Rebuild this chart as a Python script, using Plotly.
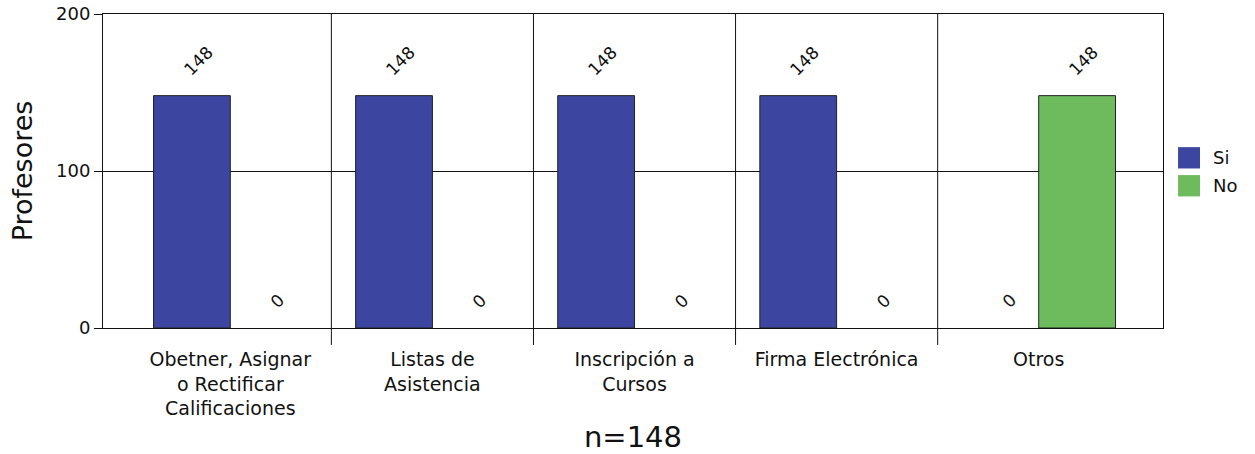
import plotly.graph_objects as go

# Survey categories and answer counts
categorias = [
    "Obetner, Asignar<br>o Rectificar<br>Calificaciones",
    "Listas de<br>Asistencia",
    "Inscripción a<br>Cursos",
    "Firma Electrónica",
    "Otros",
]
si = [148, 148, 148, 148, 0]
no = [0, 0, 0, 0, 148]
series = [("Si", si, "#3C46A0"), ("No", no, "#6EBB5E")]
total_n = 148

FONT = "DejaVu Sans, Verdana, sans-serif"
INK = "#111111"
BAR_HALF = 0.19

fig = go.Figure()
for nombre, valores, color in series:
    fig.add_trace(go.Bar(
        x=categorias, y=valores, name=nombre,
        marker=dict(color=color,
                    line=dict(color="#222222",
                              width=[1 if v > 0 else 0 for v in valores])),
        showlegend=False,
    ))

# Rotated value labels above each bar
annotations = []
for k, (nombre, valores, color) in enumerate(series):
    off = -BAR_HALF if k == 0 else BAR_HALF
    for i, v in enumerate(valores):
        txt = str(v)
        annotations.append(dict(
            x=i + off, y=v, xref="x", yref="y", text=txt, showarrow=False,
            textangle=-45, font=dict(family=FONT, size=17, color=INK),
            xanchor="center", yanchor="middle",
            xshift=10 - 1.3 * len(txt), yshift=23 + 4 * len(txt),
        ))

# Separators between categories, reaching below the axis line
shapes = []
for i in range(len(categorias) - 1):
    shapes.append(dict(type="line", xref="x", yref="paper",
                       x0=i + 0.5, x1=i + 0.5, y0=-0.054, y1=1,
                       line=dict(color=INK, width=1), layer="below"))

# Legend drawn as square swatches with labels
for k, (nombre, valores, color) in enumerate(series):
    y_top = 0.576 - k * 0.089
    shapes.append(dict(type="rect", xref="paper", yref="paper",
                       x0=1.0142, x1=1.0349, y0=y_top - 0.068, y1=y_top,
                       fillcolor=color, line=dict(width=0)))
    annotations.append(dict(x=1.0453, y=y_top - 0.034, xref="paper", yref="paper",
                            text=nombre, showarrow=False, xanchor="left",
                            yanchor="middle",
                            font=dict(family=FONT, size=18, color=INK)))

fig.update_layout(
    width=1255, height=454,
    margin=dict(l=103, r=92, t=14, b=126),
    paper_bgcolor="white", plot_bgcolor="white",
    barmode="group", bargap=0.24, bargroupgap=0,
    font=dict(family=FONT, color=INK),
    annotations=annotations, shapes=shapes,
    xaxis=dict(
        type="category", range=[-0.63, 4.615], automargin=False,
        ticks="", showgrid=False, ticklabelstandoff=14,
        showline=True, linecolor=INK, linewidth=1, mirror=True,
        tickfont=dict(family=FONT, size=19, color=INK),
        title=dict(text=f"n={total_n}", standoff=30,
                   font=dict(family=FONT, size=29, color=INK)),
    ),
    yaxis=dict(
        range=[0, 200], tickvals=[0, 100, 200], ticks="outside", ticklen=8,
        tickcolor=INK, showgrid=True, gridcolor=INK, gridwidth=1,
        showline=True, linecolor=INK, linewidth=1, mirror=True,
        zeroline=False, automargin=False,
        tickfont=dict(family=FONT, size=18, color=INK),
        title=dict(text="Profesores", standoff=15,
                   font=dict(family=FONT, size=27, color=INK)),
    ),
)

fig.write_html("out.html")
